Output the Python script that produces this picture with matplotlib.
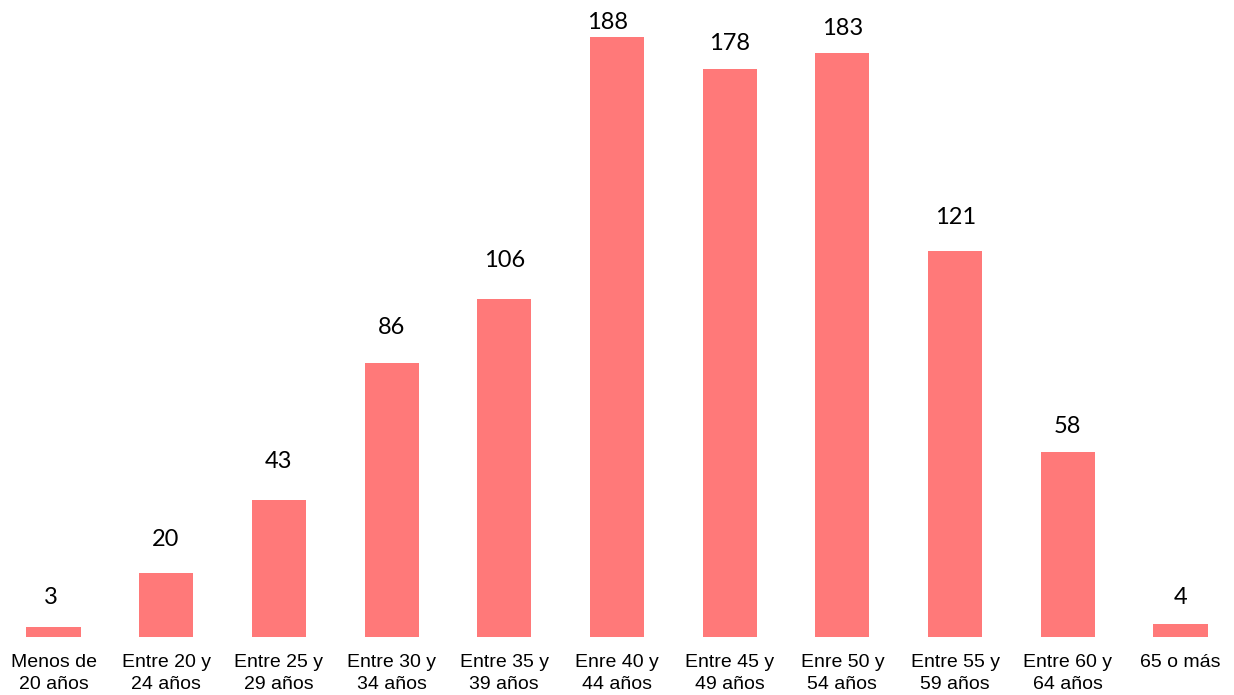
import matplotlib
matplotlib.use("Agg")
import matplotlib.pyplot as plt

# Datos: distribución por tramos de edad
categorias = ["Menos de\n20 años", "Entre 20 y\n24 años", "Entre 25 y\n29 años",
              "Entre 30 y\n34 años", "Entre 35 y\n39 años", "Enre 40 y\n44 años",
              "Entre 45 y\n49 años", "Enre 50 y\n54 años", "Entre 55 y\n59 años",
              "Entre 60 y\n64 años", "65 o más"]
valores = [3, 20, 43, 86, 106, 188, 178, 183, 121, 58, 4]

# desplazamiento de las etiquetas (px) sobre cada barra, como en el original
dy_px = [23, 27, 32, 29, 32, 8, 19, 18, 27, 19, 20]
dx_px = [-3, -1, 0, 0, 0, -9, 0, 0, 0, 0, 0]

COLOR = "#FF7979"

fig = plt.figure(figsize=(12.34, 6.95), dpi=100)
ax = fig.add_axes([0.0, 58 / 695, 1.0, 637 / 695])

x = list(range(len(valores)))
ax.bar(x, valores, width=0.48, color=COLOR)

for xi, v, dx, dy in zip(x, valores, dx_px, dy_px):
    ax.annotate(str(v), (xi, v), xytext=(dx * 0.72, dy * 0.72), textcoords="offset points",
                ha="center", va="baseline", fontsize=17, family="Lato",
                color="black", annotation_clip=False)

ax.set_xlim(-0.475, 10.475)
ax.set_ylim(0, 199.7)
ax.set_xticks(x)
ax.set_xticklabels(categorias, fontsize=14, family="Liberation Sans", linespacing=1.4)
ax.tick_params(axis="x", length=0, pad=12)
ax.set_yticks([])
for s in ax.spines.values():
    s.set_visible(False)

fig.savefig("out.png", dpi=100)
